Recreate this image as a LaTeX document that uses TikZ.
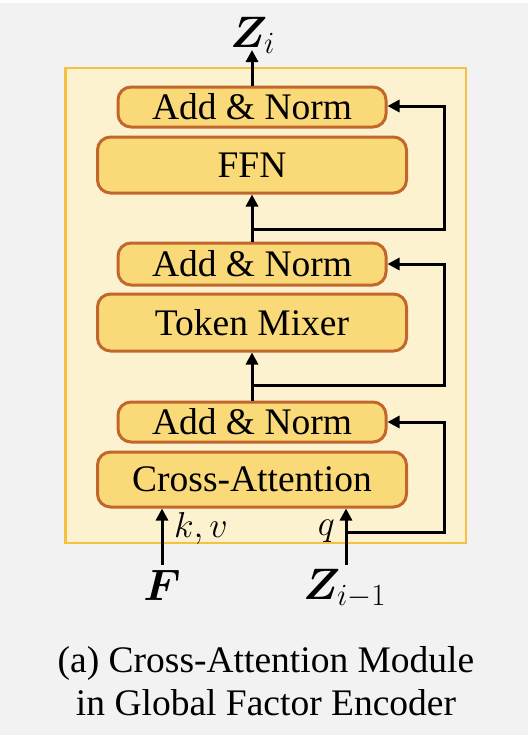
\RequirePackage{fix-cm}
\documentclass[tikz,border=0pt]{standalone}
\usepackage{amsmath}
\usepackage{bm}
\usepackage{fontspec}
\setmainfont{LiberationSerif}[Extension=.ttf, UprightFont=*-Regular, BoldFont=*-Bold, ItalicFont=*-Italic, BoldItalicFont=*-BoldItalic]
\usetikzlibrary{arrows.meta}
\definecolor{bgc}{HTML}{F2F2F2}
\definecolor{panelfill}{HTML}{FDF2CF}
\definecolor{panelline}{HTML}{F5C142}
\definecolor{boxfill}{HTML}{FAD978}
\definecolor{boxline}{HTML}{C1672C}
\begin{document}
\begin{tikzpicture}[x=1pt,y=-1pt,
  blockbox/.style={draw=boxline, fill=boxfill, line width=3pt, rounded corners=13pt,
     inner sep=0pt, font=\fontsize{37.5}{40}\selectfont},
  conn/.style={line width=3pt, draw=black},
  arr/.style={conn, -{Triangle[length=12pt,width=12pt]}},
  mathlab/.style={font=\fontsize{44}{48}\selectfont, inner sep=0pt},
  smalllab/.style={font=\fontsize{36}{40}\selectfont, inner sep=0pt},
  caption/.style={font=\fontsize{37.5}{40}\selectfont, inner sep=0pt}]
\useasboundingbox (0,0) rectangle (528,742);
\fill[white] (0,0) rectangle (528,742);
\fill[bgc] (0,3) rectangle (528,735);
\draw[draw=panelline, fill=panelfill, line width=2.5pt] (65.7,68) rectangle (466,543);

\node[blockbox, minimum width=268pt, minimum height=40pt] (an3) at (252,107) {Add \& Norm};
\node[blockbox, minimum width=309pt, minimum height=56pt] (ffn) at (252,165) {FFN};
\node[blockbox, minimum width=268pt, minimum height=42pt] (an2) at (252,264) {Add \& Norm};
\node[blockbox, minimum width=309pt, minimum height=57pt] (tm) at (252,322.5) {Token Mixer};
\node[blockbox, minimum width=268pt, minimum height=40pt] (an1) at (252,422) {Add \& Norm};
\node[blockbox, minimum width=309pt, minimum height=55pt] (ca) at (252,479.5) {Cross-Attention};

\coordinate (ztop) at (252,50);
\coordinate (b3) at (252,229);
\coordinate (r3a) at (444,229);
\coordinate (r3b) at (444,106);
\coordinate (b2) at (252,385);
\coordinate (r2a) at (444,385);
\coordinate (r2b) at (444,264);
\coordinate (zin) at (346,565);
\coordinate (b1) at (346,532);
\coordinate (r1a) at (444,532);
\coordinate (r1b) at (444,422);
\coordinate (fin) at (162,565);

\draw[arr] (an3.north) -- (ztop);
\draw[arr] (an2.north) -- (ffn.south);
\draw[arr] (b3) -- (r3a) -- (r3b) -- (an3.east |- r3b);
\draw[arr] (an1.north) -- (tm.south);
\draw[arr] (b2) -- (r2a) -- (r2b) -- (an2.east |- r2b);
\draw[arr] (zin) -- (zin |- ca.south);
\draw[arr] (b1) -- (r1a) -- (r1b) -- (an1.east |- r1b);
\draw[arr] (fin) -- (fin |- ca.south);

\node[mathlab, anchor=base west] (zi) at (230,47) {$\bm{Z}_{i}$};
\node[mathlab, anchor=base] (F) at (162,600) {$\bm{F}$};
\node[mathlab, anchor=base west] (zim) at (303,599) {$\bm{Z}_{i-1}$};
\node[smalllab, anchor=base west] (kv) at (174,537) {$k,v$};
\node[smalllab, anchor=base east] (q) at (335,535) {$q$};

\node[caption, anchor=base] (cap1) at (266,672) {(a) Cross-Attention Module};
\node[caption, anchor=base] (cap2) at (266,715) {in Global Factor Encoder};
\end{tikzpicture}
\end{document}
